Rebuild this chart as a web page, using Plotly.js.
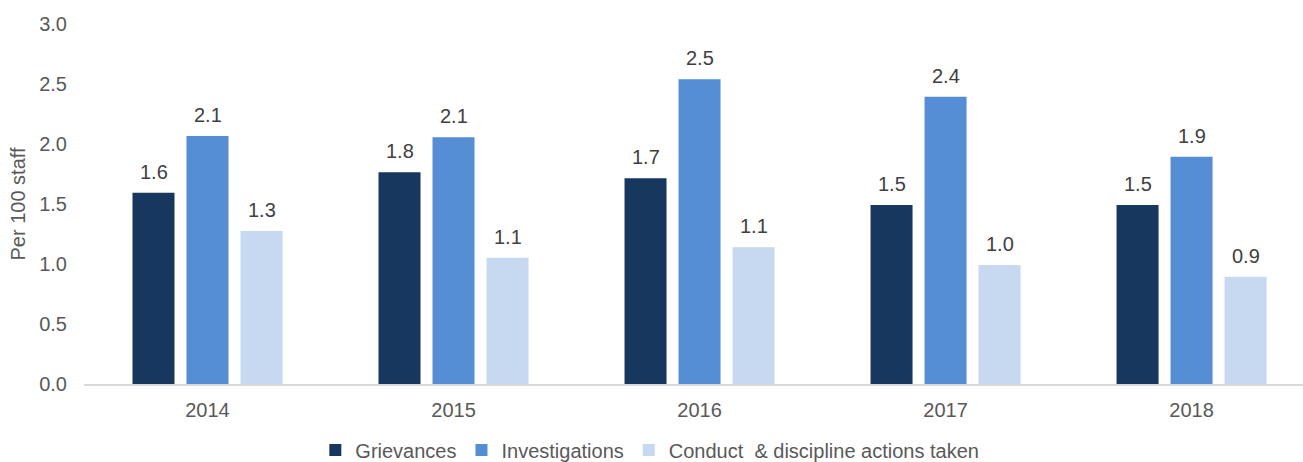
<!DOCTYPE html>
<html>
<head>
<meta charset="utf-8">
<script src="https://cdn.plot.ly/plotly-3.0.1.min.js"></script>
<style>html,body{margin:0;padding:0;background:#fff;}#chart{width:1303px;height:462px;}</style>
</head>
<body>
<div id="chart"></div>
<script>
const years = ["2014", "2015", "2016", "2017", "2018"];
const grievances = [1.594, 1.764, 1.714, 1.492, 1.492];
const investigations = [2.067, 2.056, 2.539, 2.394, 1.894];
const conduct = [1.275, 1.053, 1.139, 0.992, 0.894];
const seriesNames = ["Grievances", "Investigations", "Conduct  & discipline actions taken"];
const seriesColors = ["#17375e", "#558ed5", "#c6d9f1"];
const yTicks = [0, 0.5, 1.0, 1.5, 2.0, 2.5, 3.0];

const FONT = "Liberation Sans, Arial, sans-serif";
const allSeries = [grievances, investigations, conduct];

const traces = allSeries.map((vals, i) => ({
  type: "bar",
  name: seriesNames[i],
  x: years,
  y: vals,
  marker: {color: seriesColors[i], line: {width: 0}},
  hoverinfo: "skip"
}));

// data labels as annotations in data coordinates
const slot = (1 - 0.3415) / 3;
const annotations = [];
allSeries.forEach((vals, s) => {
  vals.forEach((v, i) => {
    annotations.push({
      xref: "x", yref: "y",
      x: i + (s - 1) * slot,
      y: v,
      text: v.toFixed(1),
      showarrow: false,
      yanchor: "middle",
      xanchor: "center",
      yshift: 21,
      font: {family: FONT, size: 20, color: "#404040"}
    });
  });
});

const layout = {
  width: 1303,
  height: 462,
  margin: {l: 84, r: 0, t: 24, b: 78, pad: 0},
  paper_bgcolor: "#ffffff",
  plot_bgcolor: "#ffffff",
  barmode: "group",
  bargap: 0.3415,
  bargroupgap: 0.222,
  font: {family: FONT, size: 20, color: "#595959"},
  xaxis: {
    type: "category",
    range: [-0.502, 4.453],
    showline: true,
    linecolor: "#d9d9d9",
    linewidth: 1.5,
    showgrid: false,
    zeroline: false,
    ticks: "",
    ticklabelstandoff: 7,
    tickfont: {family: FONT, size: 20, color: "#595959"},
    automargin: false,
    fixedrange: true
  },
  yaxis: {
    range: [0, 3.0],
    tickvals: yTicks,
    ticktext: yTicks.map(v => v.toFixed(1)),
    showline: false,
    showgrid: false,
    zeroline: false,
    ticks: "",
    ticklabelstandoff: 16,
    tickfont: {family: FONT, size: 20, color: "#595959"},
    title: {text: "Per 100 staff", standoff: 8, font: {family: FONT, size: 20, color: "#595959"}},
    automargin: true,
    fixedrange: true
  },
  showlegend: true,
  legend: {
    orientation: "h",
    xref: "container",
    yref: "container",
    x: 0.242,
    xanchor: "left",
    y: 0.026,
    yanchor: "middle",
    font: {family: FONT, size: 20, color: "#595959"},
    bgcolor: "rgba(0,0,0,0)",
    traceorder: "normal"
  },
  annotations: annotations
};

Plotly.newPlot("chart", traces, layout, {displayModeBar: false, staticPlot: true});
</script>
</body>
</html>
